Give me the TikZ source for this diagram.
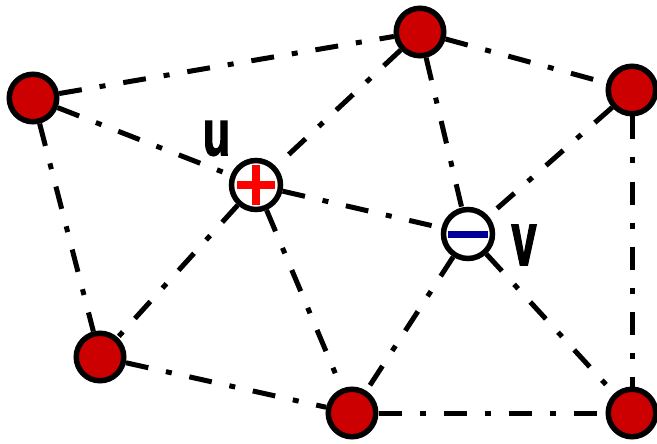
\documentclass[tikz,border=0pt]{standalone}
\usepackage{fontspec}
\setmainfont{Liberation Sans}
\newfontfamily\lblfont[FakeBold=2.5]{Liberation Sans Bold}
\begin{document}
\begin{tikzpicture}[x=1pt,y=-1pt,
  vtx/.style={circle,draw=black,line width=5.5pt,fill=vred,minimum size=47.5pt,inner sep=0pt},
  wvtx/.style={circle,draw=black,line width=5.5pt,fill=white,minimum size=49pt,inner sep=0pt},
  edge/.style={draw=black,line width=5pt,dash pattern=on 23pt off 18pt on 6pt off 18pt},
  lbl/.style={font=\fontsize{64}{64}\selectfont\lblfont,inner sep=0pt,xscale=0.7,transform shape}]
\definecolor{vred}{RGB}{204,0,0}
\definecolor{pred}{RGB}{255,0,0}
\definecolor{mblue}{RGB}{0,0,150}
\useasboundingbox (0,0) rectangle (657,444);
\node[vtx] (A) at (33,98) {};
\node[vtx] (B) at (420,32) {};
\node[vtx] (C) at (632,90) {};
\node[wvtx] (u) at (256,185) {};
\node[wvtx] (v) at (468,234) {};
\node[vtx] (D) at (100,357) {};
\node[vtx] (E) at (352,413) {};
\node[vtx] (F) at (632,413) {};
\foreach \a/\b in {A/B,B/C,A/u,A/D,B/u,B/v,C/v,C/F,u/v,u/D,u/E,v/E,v/F,D/E,E/F}
  \draw[edge] (\a) -- (\b);
\draw[pred,line width=8pt] ([xshift=-19pt]u.center) -- ([xshift=19pt]u.center);
\draw[pred,line width=8pt] ([yshift=-20pt]u.center) -- ([yshift=20pt]u.center);
\draw[mblue,line width=7pt] ([xshift=-20pt]v.center) -- ([xshift=20pt]v.center);
\node[lbl] (lu) at (216.5,138.5) {u};
\node[lbl,yscale=1.18] (lv) at (524,245) {v};
\end{tikzpicture}
\end{document}
